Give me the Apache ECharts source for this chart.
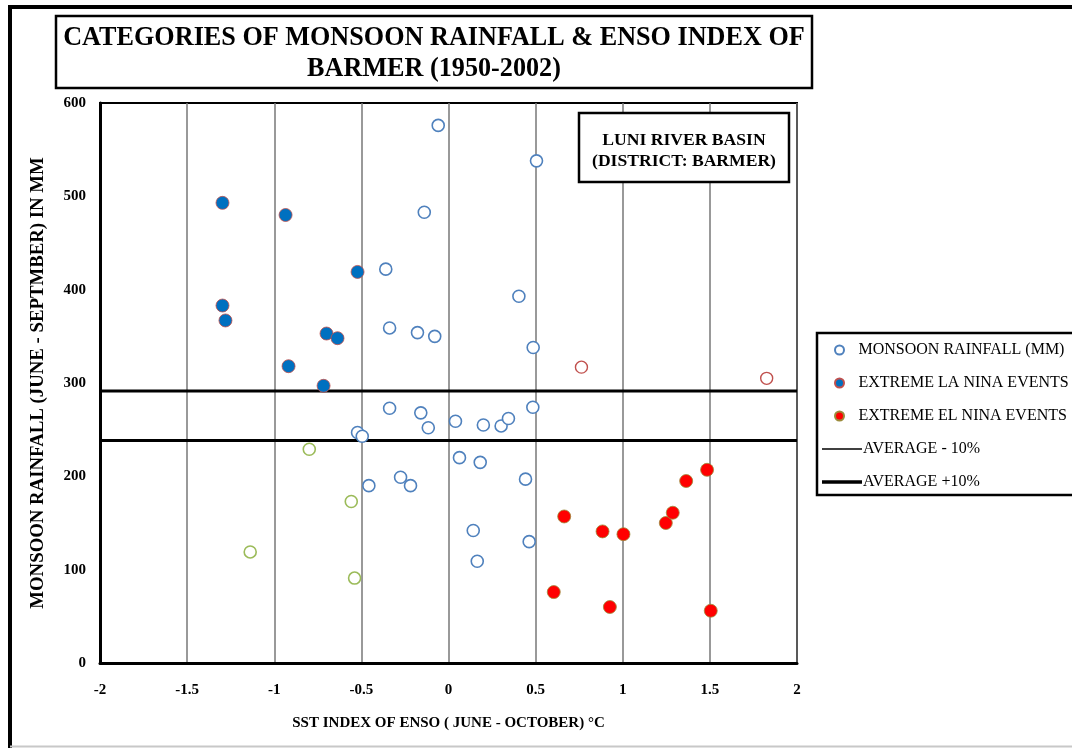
<!DOCTYPE html>
<html>
<head>
<meta charset="utf-8">
<script src="https://cdn.jsdelivr.net/npm/echarts@6/dist/echarts.min.js"></script>
<style>html,body{margin:0;padding:0;background:#fff}#c{width:1072px;height:748px}</style>
</head>
<body>
<div id="c"></div>
<script>
// ---- data (SST index °C, rainfall mm) ----
var monsoonRainfall = [
  [-0.059,576],[-0.139,483],[-0.36,422],[-0.338,359],[-0.178,354],[-0.079,350],
  [0.505,538],[0.404,393],[0.486,338],
  [-0.338,273],[-0.159,268],[-0.116,252],[-0.522,247],[-0.495,243],[-0.275,199],[-0.218,190],[-0.457,190],
  [0.04,259],[0.2,255],[0.302,254],[0.344,262],[0.484,274],[0.063,220],[0.182,215],[0.442,197],
  [0.142,142],[0.463,130],[0.165,109]
];
var otherRed = [[0.763,317],[1.826,305]];
var otherGreen = [[-0.799,229],[-0.558,173],[-1.138,119],[-0.539,91]];
var laNina = [[-1.297,493],[-0.935,480],[-0.522,419],[-1.297,383],[-1.28,367],[-0.70,353],[-0.637,348],[-0.918,318],[-0.717,297]];
var elNino = [[0.664,157],[0.884,141],[1.004,138],[1.247,150],[1.287,161],[1.364,195],[1.484,207],[0.604,76],[0.926,60],[1.505,56]];
var avgMinus10 = [[-2,238.5],[2,238.5]];
var avgPlus10 = [[-2,291.5],[2,291.5]];
var xTicks = [-2,-1.5,-1,-0.5,0,0.5,1,1.5,2];
var yTicks = [0,100,200,300,400,500,600];
var seriesNames = ['MONSOON RAINFALL (MM)','EXTREME LA NINA EVENTS','EXTREME EL NINA EVENTS','AVERAGE - 10%','AVERAGE +10%'];

var F = '"Liberation Serif","Times New Roman",serif';
var chart = echarts.init(document.getElementById('c'), null, {renderer:'canvas'});
var option = {
  animation: false,
  backgroundColor: '#fff',
  grid: {left:100, right:275, top:103, bottom:85, show:true, borderColor:'#000', borderWidth:2, backgroundColor:'transparent'},
  xAxis: {
    type:'value', min:xTicks[0], max:xTicks[xTicks.length-1], interval:0.5,
    name:'SST INDEX OF ENSO ( JUNE - OCTOBER) °C', nameLocation:'middle', nameGap:53,
    nameTextStyle:{fontFamily:F, fontWeight:'bold', fontSize:15, color:'#000'},
    axisLine:{show:true, onZero:false, lineStyle:{color:'#000', width:3}},
    axisTick:{show:false},
    axisLabel:{fontFamily:F, fontWeight:'bold', fontSize:15, color:'#000', margin:20},
    splitLine:{show:true, lineStyle:{color:'#777', width:1.5}}
  },
  yAxis: {
    type:'value', min:yTicks[0], max:yTicks[yTicks.length-1], interval:100,
    name:'MONSOON RAINFALL (JUNE - SEPTMBER) IN MM', nameLocation:'middle', nameGap:52,
    nameTextStyle:{fontFamily:F, fontWeight:'bold', fontSize:18.8, color:'#000'},
    axisLine:{show:true, onZero:false, lineStyle:{color:'#000', width:3}},
    axisTick:{show:false},
    axisLabel:{fontFamily:F, fontWeight:'bold', fontSize:15, color:'#000', margin:14},
    splitLine:{show:false}
  },
  legend: [{
    orient:'vertical', left:829, top:336, itemWidth:18, itemHeight:9, itemGap:15,
    data:[seriesNames[0], seriesNames[1], seriesNames[2]],
    textStyle:{fontFamily:F, fontSize:16, color:'#000', lineHeight:18, padding:[0,0,0,5]}
  },{
    orient:'vertical', left:817, top:435, itemWidth:40, itemHeight:14, itemGap:15,
    data:[
      {name:seriesNames[3], icon:'path://M0,0H40V1.6H0Z', itemStyle:{color:'#000'}},
      {name:seriesNames[4], icon:'path://M0,0H40V3.6H0Z', itemStyle:{color:'#000'}}
    ],
    textStyle:{fontFamily:F, fontSize:16, color:'#000', lineHeight:18, padding:[0,0,0,-4]}
  }],
  graphic: [
    {type:'line', shape:{x1:10, y1:7, x2:1072, y2:7}, style:{stroke:'#000', lineWidth:4}, z:200},
    {type:'line', shape:{x1:10, y1:5, x2:10, y2:748}, style:{stroke:'#000', lineWidth:4}, z:200},
    {type:'line', shape:{x1:10, y1:746.5, x2:1072, y2:746.5}, style:{stroke:'#c8c8c8', lineWidth:2}, z:200},
    {type:'rect', shape:{x:56, y:16, width:756, height:72}, style:{fill:'#fff', stroke:'#000', lineWidth:2.5}, z:100},
    {type:'text', x:434, y:38, scaleX:0.935, style:{text:'CATEGORIES OF MONSOON RAINFALL & ENSO INDEX OF', font:'bold 28px '+F, fill:'#000', textAlign:'center', textVerticalAlign:'middle'}, z:101},
    {type:'text', x:434, y:69, scaleX:0.935, style:{text:'BARMER (1950-2002)', font:'bold 28px '+F, fill:'#000', textAlign:'center', textVerticalAlign:'middle'}, z:101},
    {type:'rect', shape:{x:579, y:113, width:210, height:69}, style:{fill:'#fff', stroke:'#000', lineWidth:2.5}, z:100},
    {type:'text', x:684, y:140, style:{text:'LUNI RIVER BASIN', font:'bold 17.6px '+F, fill:'#000', textAlign:'center', textVerticalAlign:'middle'}, z:101},
    {type:'text', x:684, y:161, style:{text:'(DISTRICT: BARMER)', font:'bold 17.6px '+F, fill:'#000', textAlign:'center', textVerticalAlign:'middle'}, z:101},
    {type:'rect', shape:{x:817, y:333, width:262, height:162}, style:{fill:'transparent', stroke:'#000', lineWidth:2.5}, z:100}
  ],
  series: [
    {name:seriesNames[0], type:'scatter', data:monsoonRainfall, symbolSize:12,
     itemStyle:{color:'#fff', borderColor:'#4F81BD', borderWidth:1.6, opacity:1}, z:5},
    {name:'other1', type:'scatter', data:otherRed, symbolSize:12,
     itemStyle:{color:'#fff', borderColor:'#C0504D', borderWidth:1.4, opacity:1}, z:5},
    {name:'other2', type:'scatter', data:otherGreen, symbolSize:12,
     itemStyle:{color:'#fff', borderColor:'#9BBB59', borderWidth:1.6, opacity:1}, z:5},
    {name:seriesNames[1], type:'scatter', data:laNina, symbolSize:13,
     itemStyle:{color:'#0070C0', borderColor:'#C0504D', borderWidth:0.8, opacity:1}, z:6},
    {name:seriesNames[2], type:'scatter', data:elNino, symbolSize:13,
     itemStyle:{color:'#FF0000', borderColor:'#9B8B3B', borderWidth:0.8, opacity:1}, z:6},
    {name:seriesNames[3], type:'line', data:avgMinus10, showSymbol:false, symbol:'none',
     lineStyle:{color:'#000', width:3}, itemStyle:{color:'#000'}, z:4},
    {name:seriesNames[4], type:'line', data:avgPlus10, showSymbol:false, symbol:'none',
     lineStyle:{color:'#000', width:3}, itemStyle:{color:'#000'}, z:4}
  ]
};
chart.setOption(option);
</script>
</body>
</html>
